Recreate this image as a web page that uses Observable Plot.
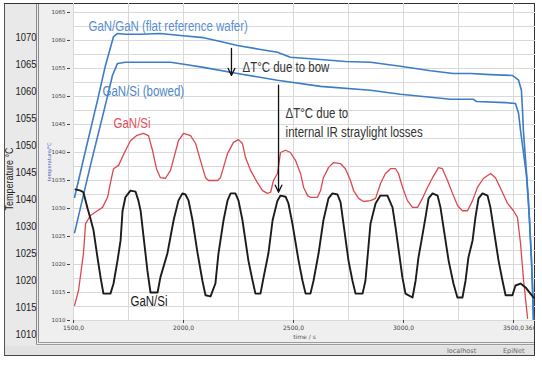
<!DOCTYPE html>
<html><head><meta charset="utf-8">
<script src="https://cdn.jsdelivr.net/npm/d3@7"></script>
<script src="https://cdn.jsdelivr.net/npm/@observablehq/plot@0.6"></script>
<style>
body{margin:0;background:#fff;}
#wrap{position:relative;width:542px;height:369px;overflow:hidden;}
#wrap div{position:absolute;box-sizing:border-box;}
#outer{left:4px;top:3px;width:531px;height:353px;background:#e9e9e9;border-left:1px solid #555;border-top:1px solid #333;border-right:1px solid #333;border-bottom:1px solid #444;}
#inner{left:36px;top:4px;width:498px;height:341px;background:#efefef;border-left:3px double #8a8a8a;border-bottom:3px double #9a9a9a;}
#plotbg{left:73px;top:4px;width:461px;height:316px;background:#fff;}
#status{left:5px;top:346px;width:529px;height:9px;background:#e2e2e2;font:6.5px 'DejaVu Sans',sans-serif;color:#666;}
#status span{position:absolute;top:1px;}
#wrap svg{position:absolute;left:0;top:0;}
</style>
</head><body>
<div id="wrap">
  <div id="outer"></div>
  <div id="inner"></div>
  <div id="plotbg"></div>
  <div id="status"><span style="left:442px">localhost</span><span style="left:498px">EpiNet</span></div>
</div>
<script>
// ---- axes / ticks ----
const xTicks = [1500, 2000, 2500, 3000, 3500, 3600];
const xGrid = [1500, 1750, 2000, 2250, 2500, 2750, 3000, 3250, 3500];
const yTicks = [1010, 1015, 1020, 1025, 1030, 1035, 1040, 1045, 1050, 1055, 1060, 1065];
const yGrid = [1010, 1012.5, 1015, 1017.5, 1020, 1022.5, 1025, 1027.5, 1030, 1032.5, 1035, 1037.5, 1040, 1042.5, 1045, 1047.5, 1050, 1052.5, 1055, 1057.5, 1060, 1062.5, 1065];
const outerTickLabels = ["1070", "1065", "1060", "1055", "1050", "1045", "1040", "1030", "1025", "1020", "1015", "1010"];

// ---- series: time (s) and temperature (°C) ----
const ganGanTime = [1505, 1555, 1609, 1645, 1682, 1700, 1736, 1805, 1895, 1986, 2091, 2168, 2245, 2350, 2427, 2486, 2623, 2736, 2850, 2986, 3123, 3227, 3305, 3395, 3495, 3523, 3536, 3541, 3545, 3555, 3568, 3577, 3586, 3591];
const ganGanTemp = [1032.0, 1040.4, 1049.3, 1055.5, 1060.7, 1061.25, 1061.1, 1061.1, 1061.25, 1060.9, 1060.5, 1059.8, 1059.1, 1058.4, 1057.9, 1057.0, 1056.6, 1056.25, 1056.1, 1055.4, 1054.6, 1054.1, 1054.1, 1053.9, 1053.75, 1052.9, 1051.1, 1047.5, 1043.9, 1038.6, 1031.4, 1024.3, 1017.1, 1010.0];

const bowedTime = [1505, 1577, 1650, 1677, 1700, 1736, 1850, 1941, 2009, 2091, 2245, 2427, 2623, 2850, 2986, 3214, 3318, 3332, 3464, 3509, 3523, 3532, 3541, 3559, 3573, 3582, 3591];
const bowedTemp = [1025.7, 1037.7, 1049.3, 1053.75, 1055.9, 1056.1, 1056.1, 1056.1, 1055.7, 1055.2, 1054.1, 1052.9, 1051.8, 1051.1, 1050.4, 1049.5, 1049.5, 1049.1, 1048.9, 1048.75, 1047.0, 1043.9, 1041.25, 1035.9, 1027.9, 1020.7, 1010.0];

const redTime = [1505, 1523, 1545, 1555, 1577, 1609, 1632, 1655, 1668, 1682, 1705, 1732, 1759, 1786, 1818, 1841, 1859, 1877, 1895, 1918, 1941, 1977, 2000, 2032, 2055, 2077, 2100, 2114, 2155, 2168, 2200, 2227, 2250, 2268, 2282, 2305, 2336, 2359, 2382, 2396, 2409, 2427, 2441, 2464, 2486, 2509, 2532, 2546, 2564, 2577, 2609, 2623, 2636, 2659, 2682, 2714, 2736, 2759, 2773, 2796, 2818, 2850, 2873, 2896, 2918, 2941, 2964, 2977, 2996, 3018, 3041, 3064, 3086, 3109, 3132, 3159, 3177, 3200, 3223, 3246, 3268, 3291, 3314, 3336, 3364, 3396, 3418, 3441, 3473, 3500, 3518, 3532, 3546, 3564];
const redTemp = [1012.7, 1015.4, 1021.9, 1027.3, 1028.75, 1029.6, 1030.2, 1032.0, 1034.6, 1037.1, 1037.7, 1040.0, 1042.1, 1043.0, 1043.4, 1043.0, 1040.4, 1037.1, 1035.5, 1035.4, 1036.8, 1042.1, 1043.4, 1043.0, 1041.6, 1038.6, 1035.5, 1035.0, 1035.0, 1035.5, 1039.8, 1041.8, 1042.3, 1041.6, 1039.1, 1036.8, 1034.6, 1033.2, 1032.7, 1032.9, 1035.0, 1036.25, 1040.0, 1040.4, 1040.0, 1038.6, 1036.25, 1033.75, 1032.3, 1032.0, 1032.0, 1033.2, 1035.5, 1037.3, 1038.2, 1038.0, 1037.1, 1035.0, 1033.2, 1031.8, 1031.25, 1031.4, 1031.8, 1034.5, 1036.25, 1037.1, 1037.1, 1036.25, 1033.75, 1031.4, 1030.2, 1030.2, 1031.8, 1033.75, 1035.5, 1037.3, 1037.1, 1035.0, 1032.7, 1030.5, 1029.6, 1029.6, 1031.4, 1033.75, 1035.4, 1036.25, 1035.5, 1033.6, 1030.9, 1029.6, 1028.4, 1023.75, 1017.1, 1010.4];

const blackTime = [1509, 1532, 1545, 1555, 1564, 1577, 1591, 1609, 1623, 1636, 1668, 1682, 1700, 1714, 1723, 1736, 1759, 1782, 1795, 1805, 1836, 1850, 1882, 1895, 1927, 1955, 1977, 1995, 2009, 2023, 2041, 2064, 2086, 2100, 2123, 2145, 2159, 2182, 2200, 2214, 2236, 2250, 2268, 2295, 2314, 2327, 2350, 2364, 2386, 2405, 2427, 2441, 2464, 2477, 2495, 2523, 2541, 2555, 2577, 2591, 2614, 2636, 2659, 2677, 2700, 2714, 2727, 2750, 2768, 2782, 2814, 2827, 2850, 2873, 2895, 2927, 2950, 2964, 2995, 3009, 3041, 3055, 3068, 3082, 3100, 3114, 3132, 3155, 3168, 3182, 3205, 3227, 3245, 3268, 3282, 3295, 3314, 3327, 3341, 3359, 3382, 3395, 3409, 3432, 3450, 3464, 3495, 3509, 3532, 3555, 3577, 3591];
const blackTemp = [1033.4, 1033.2, 1032.9, 1031.4, 1030.0, 1028.2, 1026.1, 1021.25, 1017.7, 1014.8, 1014.8, 1016.6, 1020.7, 1024.3, 1029.6, 1032.0, 1033.2, 1033.0, 1031.4, 1029.6, 1018.9, 1015.0, 1015.0, 1017.7, 1022.0, 1027.9, 1031.4, 1032.7, 1032.5, 1031.4, 1027.9, 1022.0, 1017.1, 1014.5, 1014.3, 1016.6, 1022.0, 1027.9, 1031.4, 1032.7, 1032.7, 1031.4, 1027.9, 1020.7, 1017.1, 1014.8, 1014.8, 1017.7, 1022.0, 1027.9, 1031.4, 1032.3, 1032.1, 1030.9, 1027.3, 1020.7, 1017.1, 1014.8, 1014.8, 1017.1, 1022.0, 1027.9, 1031.8, 1032.7, 1032.5, 1031.1, 1027.3, 1020.7, 1017.1, 1014.8, 1014.8, 1017.1, 1027.3, 1030.9, 1032.3, 1032.3, 1030.2, 1026.6, 1017.7, 1014.8, 1014.1, 1017.1, 1021.25, 1024.3, 1028.4, 1031.8, 1032.7, 1032.3, 1030.2, 1026.6, 1020.7, 1016.6, 1014.1, 1014.1, 1017.1, 1021.25, 1024.3, 1028.4, 1031.8, 1032.7, 1032.3, 1030.2, 1026.6, 1020.7, 1017.1, 1014.5, 1014.5, 1016.25, 1016.6, 1015.9, 1014.8, 1014.1];

// ---- labels and annotations ----
const seriesLabels = ["GaN/GaN (flat reference wafer)", "GaN/Si (bowed)", "GaN/Si", "GaN/Si"];
const seriesLabelTime = [1568, 1632, 1682, 1759];
const seriesLabelTemp = [1062.5, 1050.9, 1045.2, 1013.4];
const seriesLabelColor = ["#5b8fd0", "#4f86c8", "#e0505a", "#1a1a1a"];

const noteTexts = ["ΔT°C due to bow", "ΔT°C due to", "internal IR straylight losses"];
const noteTime = [2268, 2464, 2464];
const noteTemp = [1055.2, 1046.9, 1043.6];

const arrowTime = [2218, 2432];
const arrowFrom = [1058.6, 1052.0];
const arrowTo = [1053.75, 1032.9];

const zipS = (ts, cs) => ts.map((t, i) => ({t, c: cs[i]}));

const sans = "'Liberation Sans',Arial,sans-serif";
const small = "'DejaVu Sans',sans-serif";

const main = Plot.plot({
  width: 535, height: 369,
  marginLeft: 73, marginRight: 0, marginTop: 3, marginBottom: 49,
  x: {domain: [1500, 3600]},
  y: {domain: [1010, 1066.6]},
  style: {background: "transparent", overflow: "hidden", fontFamily: sans, color: "#444"},
  marks: [
    Plot.gridY(yGrid, {stroke: "#d9d9d9", strokeOpacity: 1}),
    Plot.gridX(xGrid, {stroke: "#d9d9d9", strokeOpacity: 1}),
    Plot.axisY(yTicks, {tickSize: 3, tickPadding: 2, dx: -3, fontSize: 5.5, fontFamily: small, label: null, tickFormat: d => String(d)}),
    Plot.axisX(xTicks, {tickSize: 3, tickPadding: 2, fontSize: 6, fontFamily: small, label: null, tickFormat: d => d.toFixed(1).replace(".", ",")}),
    Plot.text(["time / s"], {frameAnchor: "bottom", lineAnchor: "middle", dy: 17, fontSize: 6, fontFamily: small, fill: "#555"}),
    Plot.text(["temperature/°C"], {frameAnchor: "left", textAnchor: "middle", rotate: -90, dx: -24, fontSize: 5, fontFamily: small, fill: "#3f55b8"}),
    Plot.line(zipS(ganGanTime, ganGanTemp), {x: "t", y: "c", stroke: "#3d7cc6", strokeWidth: 1.6, clip: true}),
    Plot.line(zipS(bowedTime, bowedTemp), {x: "t", y: "c", stroke: "#3d7cc6", strokeWidth: 1.6, clip: true}),
    Plot.line(zipS(redTime, redTemp), {x: "t", y: "c", stroke: "#dc4850", strokeWidth: 1.3, clip: true}),
    Plot.line(zipS(blackTime, blackTemp), {x: "t", y: "c", stroke: "#1c1c1c", strokeWidth: 1.9, clip: true}),
    Plot.arrow(arrowTime, {x1: d => d, x2: d => d, y1: (d, i) => arrowFrom[i], y2: (d, i) => arrowTo[i], stroke: "#111", strokeWidth: 1.3, headLength: 9, headAngle: 50}),
    Plot.text(seriesLabels, {x: (d, i) => seriesLabelTime[i], y: (d, i) => seriesLabelTemp[i], fill: (d, i) => seriesLabelColor[i], textAnchor: "start", fontSize: 14}),
    Plot.text(noteTexts, {x: (d, i) => noteTime[i], y: (d, i) => noteTemp[i], fill: "#333", textAnchor: "start", fontSize: 14})
  ]
});

const left = Plot.plot({
  width: 38, height: 369,
  margin: 0, marginRight: 2,
  y: {type: "point", domain: outerTickLabels, range: [35, 336], padding: 0, axis: null},
  style: {background: "transparent", fontFamily: sans},
  marks: [
    Plot.text(outerTickLabels, {y: d => d, frameAnchor: "right", textAnchor: "end", fontSize: 11.5, fill: "#222"}),
    Plot.text(["Temperature °C"], {frameAnchor: "left", textAnchor: "middle", rotate: -90, dx: 9, dy: -6, fontSize: 11, fill: "#222"})
  ]
});

const wrap = document.getElementById("wrap");
wrap.appendChild(main);
wrap.appendChild(left);

// condensed typeface look (no narrow font installed): squeeze the large texts along their direction
wrap.querySelectorAll("svg text").forEach(t => {
  if (parseFloat(getComputedStyle(t).fontSize) < 10) return;
  let tr = t.getAttribute("transform");
  if (!tr) {
    const x = t.getAttribute("x") || 0, y = t.getAttribute("y") || 0;
    t.removeAttribute("x"); t.removeAttribute("y");
    tr = `translate(${x},${y})`;
  }
  t.setAttribute("transform", tr + " scale(0.82,1)");
});
</script>
</body></html>
